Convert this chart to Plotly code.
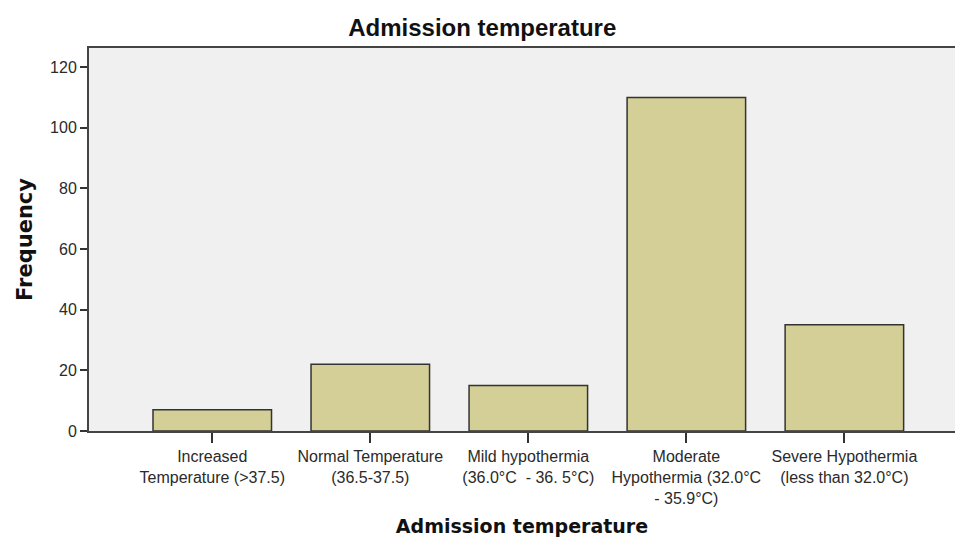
import plotly.graph_objects as go

categories = [
    "Increased<br>Temperature (>37.5)",
    "Normal Temperature<br>(36.5-37.5)",
    "Mild hypothermia<br>(36.0°C  - 36. 5°C)",
    "Moderate<br>Hypothermia (32.0°C<br>- 35.9°C)",
    "Severe Hypothermia<br>(less than 32.0°C)",
]
frequency = [7, 22, 15, 110, 35]
y_ticks = [0, 20, 40, 60, 80, 100, 120]

fig = go.Figure()
fig.add_trace(go.Bar(
    x=list(range(len(categories))),
    y=frequency,
    width=0.75,
    marker=dict(color="#d3cf96", line=dict(color="#333333", width=1.5)),
))

fig.update_layout(
    width=955, height=540,
    margin=dict(l=89, r=0, t=48, b=109),
    paper_bgcolor="white",
    plot_bgcolor="#f0f0f0",
    showlegend=False,
    title=dict(text="<b>Admission temperature</b>", x=0.505, xanchor="center", y=0.948, yanchor="middle",
               font=dict(family="Liberation Sans", size=24, color="#111111")),
    font=dict(family="Liberation Sans", size=16, color="#333333"),
)
fig.update_xaxes(
    tickmode="array",
    tickvals=list(range(len(categories))),
    ticktext=categories,
    range=[-0.78, 4.70],
    showgrid=False, zeroline=False,
    showline=True, linecolor="#444444", linewidth=2, mirror=True,
    ticks="outside", ticklen=10, tickwidth=1.5, tickcolor="#333333",
    tickfont=dict(size=16, color="#2a2a2a"),
    title=dict(text="<b>Admission temperature</b>", standoff=14,
               font=dict(family="DejaVu Sans", size=19, color="#111111")),
)
fig.update_yaxes(
    tickmode="array", tickvals=y_ticks,
    range=[0, 126.3],
    showgrid=False, zeroline=False,
    showline=True, linecolor="#444444", linewidth=2,
    ticks="outside", ticklen=7, tickwidth=1.5, tickcolor="#333333",
    tickfont=dict(size=16, color="#2a2a2a"),
    title=dict(text="<b>Frequency</b>", standoff=12,
               font=dict(family="DejaVu Sans", size=21, color="#111111")),
)

fig.write_html("out.html", config={"displayModeBar": False},
               post_script="document.body.style.margin='0';document.body.style.overflow='hidden';")
